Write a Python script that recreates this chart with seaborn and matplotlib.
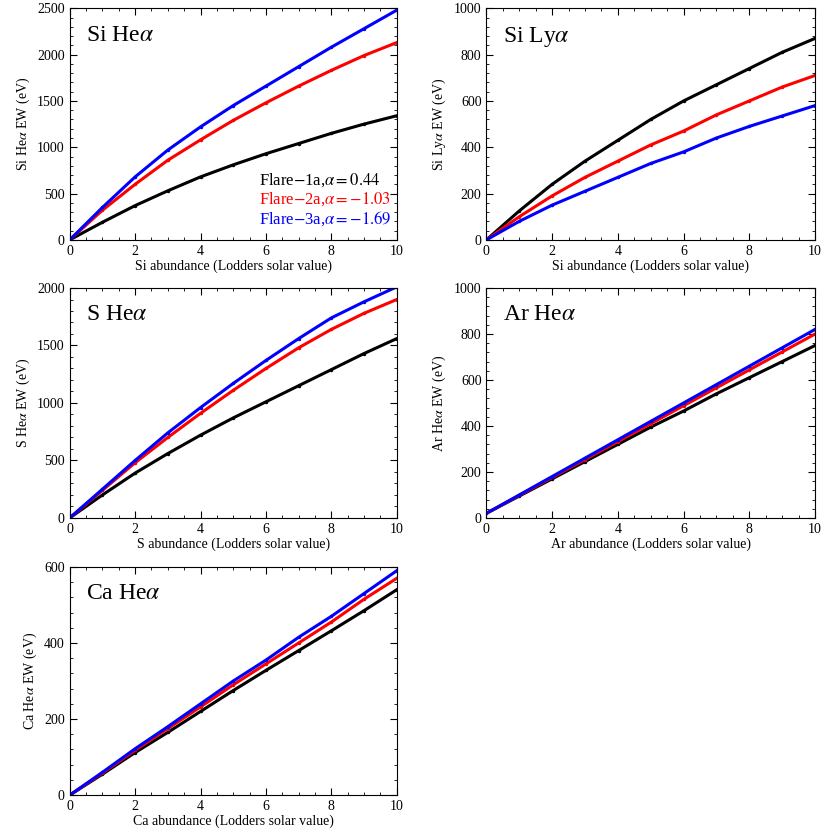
import matplotlib
matplotlib.use("Agg")
import matplotlib.pyplot as plt
import seaborn as sns
import pandas as pd
from matplotlib.ticker import AutoMinorLocator

plt.rcParams["font.family"] = "Liberation Serif"
plt.rcParams["mathtext.fontset"] = "stix"

x = [0, 1, 2, 3, 4, 5, 6, 7, 8, 9, 10]
series_names = ["Flare-1a", "Flare-2a", "Flare-3a"]
colors = ["black", "red", "blue"]

si_hea = {"Flare-1a": [0,190,370,530,680,810,930,1040,1150,1250,1340],
          "Flare-2a": [0,320,600,860,1080,1290,1480,1660,1830,1990,2130],
          "Flare-3a": [0,350,680,970,1220,1450,1660,1870,2080,2280,2480]}
si_lya = {"Flare-1a": [0,125,240,340,430,520,600,670,740,810,870],
          "Flare-2a": [0,100,190,270,340,410,470,540,600,660,710],
          "Flare-3a": [0,80,150,210,270,330,380,440,490,535,580]}
s_hea = {"Flare-1a": [0,200,390,560,720,870,1010,1150,1290,1430,1560],
         "Flare-2a": [0,240,480,700,910,1110,1300,1480,1640,1780,1900],
         "Flare-3a": [0,250,500,740,960,1170,1370,1560,1740,1880,2010]}
ar_hea = {"Flare-1a": [20,95,170,245,320,395,465,540,610,680,750],
          "Flare-2a": [20,98,176,254,332,410,488,566,644,722,800],
          "Flare-3a": [20,100,180,260,340,420,500,580,660,740,820]}
ca_hea = {"Flare-1a": [0,55,112,165,220,275,328,380,432,485,540],
          "Flare-2a": [0,58,118,175,232,290,345,400,455,515,570],
          "Flare-3a": [0,60,122,180,240,300,355,415,470,530,590]}

panels = [
    (si_hea, "Si He$\\alpha$", "Si He$\\alpha$ EW (eV)", "Si abundance (Lodders solar value)", 2500, 500, [0.084, 0.711, 0.394, 0.279]),
    (si_lya, "Si Ly$\\alpha$", "Si Ly$\\alpha$ EW (eV)", "Si abundance (Lodders solar value)", 1000, 200, [0.586, 0.711, 0.396, 0.279]),
    (s_hea, "S He$\\alpha$", "S He$\\alpha$ EW (eV)", "S abundance (Lodders solar value)", 2000, 500, [0.084, 0.376, 0.394, 0.277]),
    (ar_hea, "Ar He$\\alpha$", "Ar He$\\alpha$ EW (eV)", "Ar abundance (Lodders solar value)", 1000, 200, [0.586, 0.376, 0.396, 0.277]),
    (ca_hea, "Ca He$\\alpha$", "Ca He$\\alpha$ EW (eV)", "Ca abundance (Lodders solar value)", 600, 200, [0.084, 0.042, 0.394, 0.275]),
]

fig = plt.figure(figsize=(8.3, 8.3), dpi=100)
for data, title, ylab, xlab, ymax, ystep, pos in panels:
    ax = fig.add_axes(pos)
    for name, c in zip(series_names, colors):
        df = pd.DataFrame({"x": x, "y": data[name]})
        sns.lineplot(data=df, x="x", y="y", ax=ax, color=c, lw=2.2,
                     marker="o", markersize=2.5, markeredgewidth=0)
    ax.set_xlim(0, 10)
    ax.set_ylim(0, ymax)
    ax.set_xticks(range(0, 11, 2))
    ax.set_yticks(range(0, ymax + 1, ystep))
    ax.xaxis.set_minor_locator(AutoMinorLocator(4))
    ax.yaxis.set_minor_locator(AutoMinorLocator(5))
    ax.tick_params(which="both", direction="in", top=True, right=True, labelsize=10)
    ax.tick_params(which="major", length=5)
    ax.tick_params(which="minor", length=2.5)
    ax.set_xlabel(xlab, fontsize=10, labelpad=1)
    ax.set_ylabel(ylab, fontsize=10)
    ax.text(0.05, 0.93, title, transform=ax.transAxes, fontsize=17, va="top")
    if title == "Si He$\\alpha$":
        labels = ["Flare$-$1a,$\\alpha=0.44$", "Flare$-$2a,$\\alpha=-1.03$", "Flare$-$3a,$\\alpha=-1.69$"]
        for i, (lab, c) in enumerate(zip(labels, colors)):
            ax.text(0.58, 0.24 - i * 0.085, lab, transform=ax.transAxes, color=c, fontsize=12)

fig.savefig("out.png", dpi=100)
